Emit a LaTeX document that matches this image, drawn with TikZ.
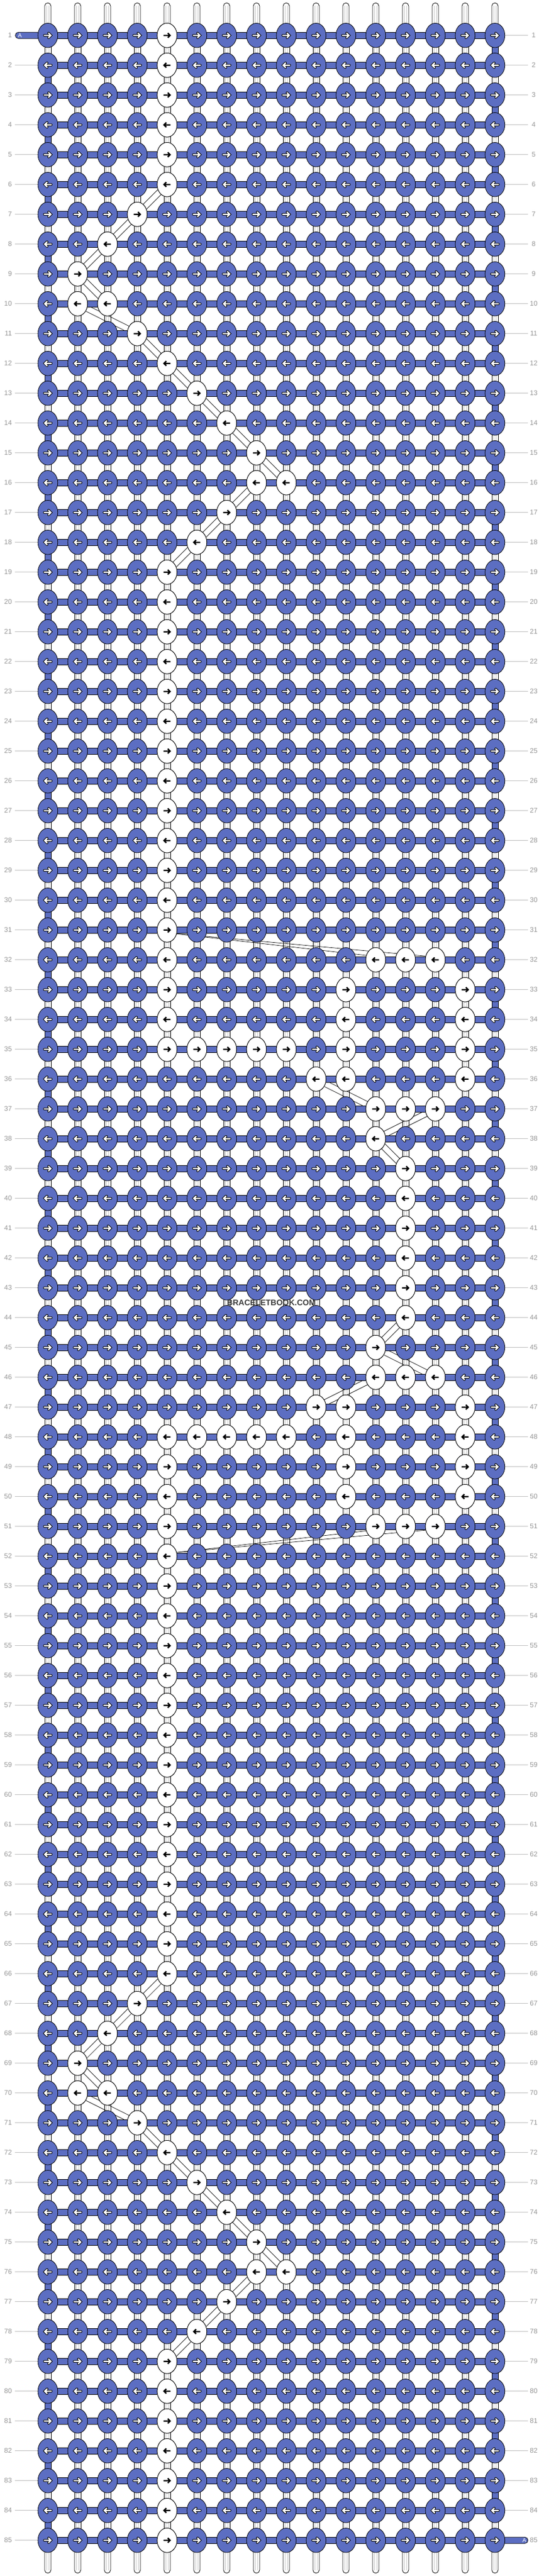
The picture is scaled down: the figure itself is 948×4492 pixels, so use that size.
\documentclass[tikz,border=0pt]{standalone}
\usepackage{fontspec}
\setmainfont{Liberation Sans}
\usetikzlibrary{calc}
\definecolor{kblue}{RGB}{92,110,194}
\definecolor{lgrey}{RGB}{200,200,200}
\definecolor{tgrey}{RGB}{150,150,150}
\definecolor{rgrey}{RGB}{190,190,190}
\newsavebox\rowR \newsavebox\rowL \newsavebox\gapO \newsavebox\gapE \newsavebox\kWR \newsavebox\kWL
\newcommand\pgE[1]{\pgfpathellipse{\pgfpoint{(#1)*1pt}{0pt}}{\pgfpoint{17.3pt}{0pt}}{\pgfpoint{0pt}{21.3pt}}}
\newcommand\pgA[2]{%
  \pgfpathmoveto{\pgfpoint{(#1-6*(#2))*1pt}{0pt}}\pgfpathlineto{\pgfpoint{(#1+5.3*(#2))*1pt}{0pt}}%
  \pgfpathmoveto{\pgfpoint{(#1+1.3*(#2))*1pt}{4pt}}\pgfpathlineto{\pgfpoint{(#1+5.3*(#2))*1pt}{0pt}}%
  \pgfpathlineto{\pgfpoint{(#1+1.3*(#2))*1pt}{-4pt}}}
\newcommand\mkrow[2]{%
 \sbox#1{\pgfpicture
  \pgfpathrectangle{\pgfpoint{-20pt}{-24pt}}{\pgfpoint{820pt}{48pt}}\pgfusepath{use as bounding box}%
  \pgfsetlinewidth{0.8pt}\pgfsetstrokecolor{black}\pgfsetfillcolor{kblue}%
  \pgfpathrectangle{\pgfpoint{0pt}{-5.5pt}}{\pgfpoint{780pt}{11pt}}\pgfusepath{fill,stroke}%
  \foreach \i in {0,...,15}{\pgE{\i*52}\pgfusepath{fill,stroke}}%
  \pgfsetlinewidth{4.4pt}\pgfsetroundcap\pgfsetmiterjoin
  \foreach \i in {0,...,15}{\pgA{\i*52}{#2}\pgfusepath{stroke}}%
  \pgfsetlinewidth{2.4pt}\pgfsetstrokecolor{white}%
  \foreach \i in {0,...,15}{\pgA{\i*52}{#2}\pgfusepath{stroke}}%
 \endpgfpicture}}
\newcommand\mkgap[2]{%
 \sbox#1{\pgfpicture
  \pgfpathrectangle{\pgfpoint{-20pt}{-2pt}}{\pgfpoint{820pt}{56pt}}\pgfusepath{use as bounding box}%
  \pgfsetlinewidth{0.8pt}\pgfsetstrokecolor{black}%
  \foreach \i in {0,...,15}{%
    \ifnum\i=#2\relax\pgfsetfillcolor{kblue}\else\pgfsetfillcolor{white}\fi
    \pgfpathrectangle{\pgfpoint{(\i*52-5.5)*1pt}{0pt}}{\pgfpoint{11pt}{52pt}}\pgfusepath{fill,stroke}}%
  \pgfsetlinewidth{0.6pt}\pgfsetstrokecolor{lgrey}%
  \foreach \i in {0,...,15}{\ifnum\i=#2\relax\else
    \pgfpathmoveto{\pgfpoint{(\i*52-2.2)*1pt}{0pt}}\pgfpathlineto{\pgfpoint{(\i*52-2.2)*1pt}{52pt}}%
    \pgfpathmoveto{\pgfpoint{(\i*52+2.2)*1pt}{0pt}}\pgfpathlineto{\pgfpoint{(\i*52+2.2)*1pt}{52pt}}%
    \pgfusepath{stroke}\fi}%
 \endpgfpicture}}
\newcommand\mkwk[2]{%
 \sbox#1{\pgfpicture
  \pgfpathrectangle{\pgfpoint{-20pt}{-24pt}}{\pgfpoint{40pt}{48pt}}\pgfusepath{use as bounding box}%
  \pgfsetlinewidth{0.8pt}\pgfsetstrokecolor{black}\pgfsetfillcolor{white}%
  \pgE{0}\pgfusepath{fill,stroke}%
  \pgfsetlinewidth{2.4pt}\pgfsetbuttcap\pgfsetmiterjoin
  \pgA{0}{#2}\pgfusepath{stroke}%
 \endpgfpicture}}
\newcommand\strp[2]{\draw[strand] ($(#1)!5.2pt!90:(#2)$) -- ($(#2)!5.2pt!-90:(#1)$) ($(#1)!5.2pt!-90:(#2)$) -- ($(#2)!5.2pt!90:(#1)$);}
\begin{document}
\mkrow\rowR{1}\mkrow\rowL{-1}\mkgap\gapO{15}\mkgap\gapE{0}\mkwk\kWR{1}\mkwk\kWL{-1}%
\begin{tikzpicture}[x=1pt,y=-1pt,
  outl/.style={draw=black,line width=0.8pt},
  boxed/.style={inner sep=0pt,outer sep=0pt},
  vstr/.style={outl,fill=white},
  hbar/.style={outl,fill=kblue},
  innerl/.style={draw=lgrey,line width=0.6pt},
  lbl/.style={text=tgrey,font=\fontsize{12}{12}\selectfont,inner sep=0pt},
  tick/.style={draw=rgrey,line width=0.8pt},
  strand/.style={draw=black,line width=0.7pt}
]
\fill[white] (0,0) rectangle (948,4492);
\useasboundingbox (0,0) rectangle (948,4492);
% top and bottom strings
\foreach \c in {1,...,16}{
  \pgfmathsetmacro\X{83.4+52*(\c-1)}
  \draw[vstr,rounded corners=5.5pt] (\X-5.5,62) rectangle (\X+5.5,5);
  \draw[innerl] (\X-2.2,10) -- (\X-2.2,62) (\X+2.2,10) -- (\X+2.2,62);
  \draw[vstr,rounded corners=5.5pt] (\X-5.5,4429) rectangle (\X+5.5,4487);
  \draw[innerl] (\X-2.2,4429) -- (\X-2.2,4482) (\X+2.2,4429) -- (\X+2.2,4482);
}
% vertical connectors between rows
\foreach \r in {1,...,84}{
  \ifodd\r\relax
    \node[boxed] (gap-\r) at (473.4,{87.7+52*(\r-1)}) {\usebox\gapO};
  \else
    \node[boxed] (gap-\r) at (473.4,{87.7+52*(\r-1)}) {\usebox\gapE};
  \fi
}
% coordinates of white knots
\newcommand\wlistA{12/5,72/5,7/4,8/3,9/2,10/2,10/3,11/4,13/6,14/7,15/8,16/8,16/9,17/7,18/6,
  67/4,68/3,69/2,70/2,70/3,71/4,73/6,74/7,75/8,76/8,76/9,77/7,78/6,
  32/12,32/13,32/14,33/11,33/15,34/11,34/15,35/6,35/7,35/8,35/9,35/11,35/15,36/10,36/11,36/15,
  37/12,37/13,37/14,38/12,39/13,40/13,41/13,42/13,43/13,44/13,45/12,46/12,46/13,46/14,
  47/10,47/11,47/15,48/6,48/7,48/8,48/9,48/11,48/15,49/11,49/15,50/11,50/15,51/12,51/13,51/14}
\foreach \r/\c in \wlistA {\coordinate (w-\r-\c) at ({83.4+52*(\c-1)},{61.7+52*(\r-1)});}
\foreach \r in {1,...,6,19,20,...,35,48,49,...,66,79,80,...,85}{\coordinate (w-\r-5) at (291.4,{61.7+52*(\r-1)});}
% strands between white knots
\foreach \o in {0,60}{
  \foreach \ra/\ca/\rb/\cb in {6/5/7/4,7/4/8/3,8/3/9/2,9/2/10/3,10/2/11/4,11/4/12/5,12/5/13/6,13/6/14/7,14/7/15/8,15/8/16/9,16/8/17/7,17/7/18/6,18/6/19/5}{
    \pgfmathtruncatemacro\Ra{\ra+\o}\pgfmathtruncatemacro\Rb{\rb+\o}
    \strp{w-\Ra-\ca}{w-\Rb-\cb}
  }
}
\strp{w-36-10}{w-37-12}
\strp{w-37-14}{w-38-12}
\strp{w-38-12}{w-39-13}
\strp{w-44-13}{w-45-12}
\strp{w-45-12}{w-46-14}
\strp{w-46-12}{w-47-10}
\draw[strand] (305,1628.0) -- (645,1666.7) (305,1628.0) -- (750,1667.9);
\draw[strand] (305,2707.4) -- (645,2668.7) (305,2707.4) -- (750,2667.5);
% A string ends
\draw[hbar,rounded corners=5.5pt] (26.7,56.2) rectangle (90,67.2);
\draw[hbar,rounded corners=5.5pt] (857,4424.2) rectangle (921,4435.2);
% labels and ticks
\foreach \r in {1,...,85}{
  \pgfmathsetmacro\Y{61.7+52*(\r-1)}
  \node[lbl,anchor=east] (ll-\r) at (21,\Y) {\r};
  \node[lbl] (rl-\r) at (931,\Y) {\r};
  \ifnum\r>1\relax \draw[tick] (26,\Y) -- (70,\Y); \fi
  \ifnum\r<85\relax \draw[tick] (877,\Y) -- (921,\Y); \fi
}
% knot rows
\foreach \r in {1,...,85}{
  \ifodd\r\relax
    \node[boxed] (row-\r) at (473.4,{61.7+52*(\r-1)}) {\usebox\rowR};
  \else
    \node[boxed] (row-\r) at (473.4,{61.7+52*(\r-1)}) {\usebox\rowL};
  \fi
}
\node[text=white,font=\fontsize{10}{10}\selectfont,inner sep=0pt] (a1) at (34.7,61.7) {A};
\node[text=white,font=\fontsize{10}{10}\selectfont,inner sep=0pt] (a2) at (914.7,4429.7) {A};
% white knots
\foreach \r/\c in \wlistA {
  \ifodd\r\relax \node[boxed] (n-\r-\c) at (w-\r-\c) {\usebox\kWR};
  \else \node[boxed] (n-\r-\c) at (w-\r-\c) {\usebox\kWL}; \fi
}
\foreach \r in {1,...,6,19,20,...,35,48,49,...,66,79,80,...,85}{
  \ifodd\r\relax \node[boxed] (n-\r-5) at (w-\r-5) {\usebox\kWR};
  \else \node[boxed] (n-\r-5) at (w-\r-5) {\usebox\kWL}; \fi
}
\node[font=\bfseries\fontsize{14}{14}\selectfont,text={rgb,255:red,60;green,60;blue,60},inner sep=0pt] (wm) at (473.4,2271.7) {BRACELETBOOK.COM};
\end{tikzpicture}
\end{document}
